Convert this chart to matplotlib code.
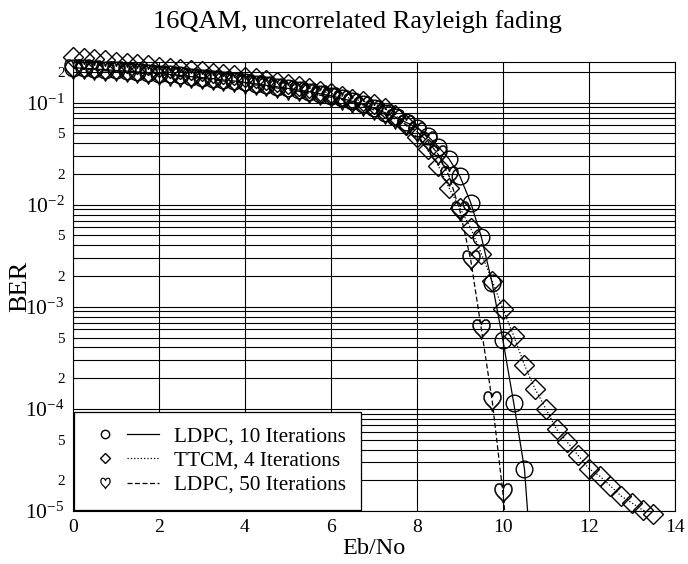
import numpy as np
import matplotlib
matplotlib.use("Agg")
import matplotlib.pyplot as plt
from matplotlib.lines import Line2D
from matplotlib.legend_handler import HandlerTuple
from matplotlib.ticker import FixedLocator, FuncFormatter

plt.rcParams["font.family"] = ["Liberation Serif", "DejaVu Serif"]
plt.rcParams["mathtext.fontset"] = "custom"
plt.rcParams["mathtext.rm"] = "Liberation Serif"
plt.rcParams["mathtext.it"] = "Liberation Serif:italic"

# LDPC, 10 iterations (0 .. 10.75 dB, 0.25 dB step; last point lies below the plot)
ldpc10_snr = np.arange(0, 10.76, 0.25)
ldpc10_ber = [0.221, 0.217, 0.214, 0.210, 0.207, 0.204, 0.200, 0.197, 0.193,
              0.189, 0.185, 0.180, 0.176, 0.172, 0.167, 0.163, 0.158, 0.153,
              0.148, 0.143, 0.138, 0.133, 0.128, 0.122, 0.117, 0.110, 0.103,
              0.096, 0.088, 0.080, 0.072, 0.064, 0.057, 0.047, 0.037, 0.028,
              0.019, 0.0105, 0.0048, 0.0017, 4.7e-4, 1.15e-4, 2.6e-5, 1e-6]

# TTCM, 4 iterations (0 .. 13.5 dB)
ttcm_snr = np.arange(0, 13.51, 0.25)
ttcm_ber = [0.277, 0.271, 0.265, 0.259, 0.253, 0.246, 0.239, 0.233, 0.226,
            0.220, 0.214, 0.208, 0.203, 0.197, 0.191, 0.186, 0.180, 0.173,
            0.166, 0.159, 0.152, 0.145, 0.138, 0.130, 0.123, 0.116, 0.109,
            0.103, 0.098, 0.088, 0.075, 0.060, 0.046, 0.035, 0.024, 0.0145,
            0.0093, 0.0059, 0.0033, 0.0018, 9.5e-4, 5.2e-4, 2.7e-4, 1.56e-4,
            1.0e-4, 6.3e-5, 4.7e-5, 3.5e-5, 2.6e-5, 2.2e-5, 1.76e-5, 1.4e-5,
            1.2e-5, 1.02e-5, 9.3e-6]

# LDPC, 50 iterations (0 .. 10.25 dB; last point lies below the plot)
ldpc50_snr = np.arange(0, 10.26, 0.25)
ldpc50_ber = [0.216, 0.212, 0.209, 0.205, 0.202, 0.199, 0.195, 0.192, 0.188,
              0.184, 0.180, 0.176, 0.172, 0.167, 0.163, 0.158, 0.154, 0.149,
              0.144, 0.139, 0.134, 0.129, 0.124, 0.118, 0.113, 0.107, 0.100,
              0.093, 0.085, 0.077, 0.069, 0.061, 0.052, 0.042, 0.031, 0.019,
              0.0087, 0.0029, 6.0e-4, 1.2e-4, 1.5e-5, 1.2e-6]

labels = ["LDPC, 10 Iterations", "TTCM, 4 Iterations", "LDPC, 50 Iterations"]

ymin, ymax = 1e-5, 0.25

fig = plt.figure(figsize=(6.88, 5.64), dpi=100)
ax = fig.add_axes([0.106, 0.094, 0.875, 0.796])
ax.set_yscale("log")
ax.set_xlim(0, 14)
ax.set_ylim(ymin, ymax)

# marker, main size, legend size, face, edge width, line style, dashes
series = [
    (ldpc10_snr, ldpc10_ber, "o", 12, 6, "none", 1.0, "-", None),
    (ttcm_snr, ttcm_ber, "D", 10, 5.5, "none", 1.0, ":", None),
    (ldpc50_snr, ldpc50_ber, r"$\heartsuit$", 14.5, 8, "k", 0.35, "--", (4, 2)),
]
handles = []
for (snr, ber, mk, ms, lms, mfc, mew, ls, dash), lab in zip(series, labels):
    snr = np.asarray(snr)
    ber = np.asarray(ber)
    line, = ax.plot(snr, ber, color="k", lw=0.9, ls=ls, zorder=3)
    if dash:
        line.set_dashes(dash)
    keep = ber >= ymin * 0.9
    ax.plot(snr[keep], ber[keep], ls="none", marker=mk, ms=ms, mfc=mfc,
            mec="k", mew=mew, clip_on=False, zorder=4)
    mh = Line2D([], [], ls="none", marker=mk, ms=lms, mfc=mfc, mec="k",
                mew=mew)
    lh = Line2D([], [], color="k", lw=0.9, ls=ls)
    if dash:
        lh.set_dashes(dash)
    handles.append((mh, lh))

# grid: vertical at majors, horizontal at every decade sub-step
ax.xaxis.set_major_locator(FixedLocator(np.arange(0, 15, 2)))
ax.set_xticklabels([str(v) for v in range(0, 15, 2)], fontsize=14)
ax.yaxis.set_major_locator(FixedLocator([10.0 ** k for k in range(-5, 0)]))
ax.yaxis.set_major_formatter(FuncFormatter(
    lambda v, p: r"$\mathregular{10^{%d}}$" % int(round(np.log10(v)))))
minors = [m * 10.0 ** k for k in range(-5, 0) for m in range(2, 10)]
minors = [v for v in minors if v <= ymax]
ax.yaxis.set_minor_locator(FixedLocator(minors))


def minor_label(v, p):
    m = int(round(v / 10.0 ** np.floor(np.log10(v) + 1e-9)))
    return str(m) if m in (2, 5) else ""


ax.yaxis.set_minor_formatter(FuncFormatter(minor_label))
ax.tick_params(axis="both", which="both", length=0, pad=6)
ax.tick_params(axis="y", which="major", labelsize=15.5)
ax.tick_params(axis="y", which="minor", labelsize=11)
ax.grid(True, axis="x", which="major", color="k", lw=0.8)
ax.grid(True, axis="y", which="both", color="k", lw=0.8)
for s in ax.spines.values():
    s.set_linewidth(0.8)

ax.set_xlabel("Eb/No", fontsize=17.5, labelpad=1)
ax.set_ylabel("BER", fontsize=19, va="center")
ax.yaxis.set_label_coords(-0.088, 0.5)
fig.text(357 / 688, 1 - 22 / 564, "16QAM, uncorrelated Rayleigh fading",
         fontsize=19, ha="center", va="center")

leg = ax.legend(handles, labels, loc="lower left", fontsize=15.3,
                handler_map={tuple: HandlerTuple(ndivide=None, pad=0.32)},
                handlelength=3.3, borderaxespad=0.05, fancybox=False,
                framealpha=1, edgecolor="k", labelspacing=0.2,
                borderpad=0.7, handletextpad=0.7)
leg.get_frame().set_linewidth(0.9)
leg.set_zorder(5)

fig.savefig("out.png", dpi=100)
